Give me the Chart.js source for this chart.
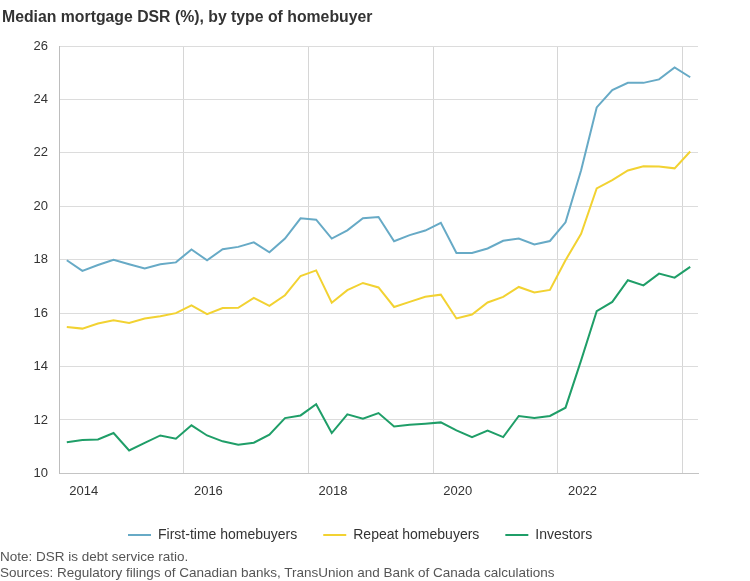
<!DOCTYPE html>
<html>
<head>
<meta charset="utf-8">
<script src="https://cdn.jsdelivr.net/npm/chart.js@4.4.0/dist/chart.umd.min.js"></script>
<style>
  html, body { margin: 0; padding: 0; background: #ffffff; }
  #wrap { position: relative; width: 750px; height: 581px; overflow: hidden; font-family: "Liberation Sans", Arial, sans-serif; }
  #c { position: absolute; left: 0; top: 0; }
  #title { position: absolute; left: 2px; top: 8px; font-size: 15.8px; line-height: 18px; font-weight: bold; color: #333333; white-space: nowrap; }
  #notes { position: absolute; left: 0; top: 549px; font-size: 13.5px; line-height: 16px; color: #555555; white-space: nowrap; }
</style>
</head>
<body>
<div id="wrap">
  <canvas id="c" width="750" height="581"></canvas>
  <div id="title">Median mortgage DSR (%), by type of homebuyer</div>
  <div id="notes">Note: DSR is debt service ratio.<br>Sources: Regulatory filings of Canadian banks, TransUnion and Bank of Canada calculations</div>
</div>
<script>
// ---- data ----
const categories = [
  '2013Q4',
  '2014Q1','2014Q2','2014Q3','2014Q4',
  '2015Q1','2015Q2','2015Q3','2015Q4',
  '2016Q1','2016Q2','2016Q3','2016Q4',
  '2017Q1','2017Q2','2017Q3','2017Q4',
  '2018Q1','2018Q2','2018Q3','2018Q4',
  '2019Q1','2019Q2','2019Q3','2019Q4',
  '2020Q1','2020Q2','2020Q3','2020Q4',
  '2021Q1','2021Q2','2021Q3','2021Q4',
  '2022Q1','2022Q2','2022Q3','2022Q4',
  '2023Q1','2023Q2','2023Q3','2023Q4'
];
const firstTime = [17.98, 17.58, 17.80, 18.00, 17.83, 17.67, 17.83, 17.90, 18.38, 17.98,
                   18.39, 18.48, 18.65, 18.28, 18.79, 19.55, 19.50, 18.79, 19.10, 19.55,
                   19.60, 18.69, 18.92, 19.09, 19.38, 18.25, 18.25, 18.42, 18.71, 18.79,
                   18.57, 18.70, 19.40, 21.35, 23.70, 24.35, 24.62, 24.62, 24.75, 25.20, 24.83];
const repeat    = [15.48, 15.42, 15.61, 15.73, 15.63, 15.80, 15.88, 16.00, 16.29, 15.96,
                   16.19, 16.20, 16.57, 16.27, 16.67, 17.39, 17.60, 16.39, 16.86, 17.13,
                   16.96, 16.23, 16.42, 16.61, 16.69, 15.80, 15.95, 16.40, 16.61, 16.98,
                   16.77, 16.87, 17.98, 18.97, 20.67, 20.98, 21.34, 21.50, 21.49, 21.42, 22.05];
const investors = [11.17, 11.25, 11.27, 11.51, 10.86, 11.14, 11.42, 11.30, 11.80, 11.42,
                   11.20, 11.07, 11.15, 11.45, 12.07, 12.17, 12.59, 11.51, 12.21, 12.05,
                   12.26, 11.76, 11.82, 11.86, 11.91, 11.61, 11.36, 11.60, 11.36, 12.15,
                   12.07, 12.15, 12.46, 14.23, 16.07, 16.42, 17.23, 17.04, 17.48, 17.33, 17.73];
const seriesNames = ['First-time homebuyers', 'Repeat homebuyers', 'Investors'];
const xGridAt = [-0.5, 7.5, 15.5, 23.5, 31.5, 39.5];
const xTickLabels = ['2014', '2016', '2018', '2020', '2022', ''];
const yTicks = [10, 12, 14, 16, 18, 20, 22, 24, 26];

// ---- chart ----
const FONT = "'Liberation Sans', Arial, sans-serif";
Chart.defaults.font.family = FONT;

const toPoints = arr => arr.map((v, i) => ({ x: i, y: v }));

const legendPlace = {
  id: 'legendPlace',
  afterLayout(chart) {
    const l = chart.legend;
    if (!l) return;
    const w = l.right - l.left;
    const h = l.bottom - l.top;
    l.left = 102; l.right = 102 + w;
    l.top = 502; l.bottom = 502 + h;
  }
};

new Chart(document.getElementById('c'), {
  type: 'line',
  data: {
    datasets: [
      { label: seriesNames[0], data: toPoints(firstTime), borderColor: '#67aac6', backgroundColor: '#67aac6', borderWidth: 2, pointRadius: 0, tension: 0 },
      { label: seriesNames[1], data: toPoints(repeat),    borderColor: '#f2d232', backgroundColor: '#f2d232', borderWidth: 2, pointRadius: 0, tension: 0 },
      { label: seriesNames[2], data: toPoints(investors), borderColor: '#1f9e68', backgroundColor: '#1f9e68', borderWidth: 2, pointRadius: 0, tension: 0 }
    ]
  },
  options: {
    responsive: false,
    animation: false,
    layout: { padding: { left: 0, right: 52, top: 46, bottom: 22 } },
    plugins: {
      title: { display: false },
      tooltip: { enabled: false },
      legend: {
        position: 'bottom',
        align: 'start',
        labels: {
          usePointStyle: true,
          pointStyle: 'line',
          pointStyleWidth: 23,
          boxWidth: 23,
          padding: 26,
          color: '#333333',
          font: { size: 14, family: FONT }
        }
      }
    },
    scales: {
      x: {
        type: 'linear',
        min: -0.5,
        max: categories.length - 0.5,
        afterBuildTicks: (scale) => { scale.ticks = xGridAt.map(v => ({ value: v })); },
        ticks: {
          autoSkip: false,
          maxRotation: 0,
          padding: 10,
          labelOffset: 24.7,
          color: '#333333',
          font: { size: 13, family: FONT },
          callback: (val, idx) => xTickLabels[idx]
        },
        grid: { color: '#d6d6d6', drawTicks: false },
        border: { color: '#c4c4c4' }
      },
      y: {
        min: yTicks[0],
        max: yTicks[yTicks.length - 1],
        afterBuildTicks: (scale) => { scale.ticks = yTicks.map(v => ({ value: v })); },
        afterFit: (scale) => { scale.width = 59; },
        ticks: {
          padding: 11,
          color: '#333333',
          font: { size: 13, family: FONT }
        },
        grid: { color: '#dcdcdc', drawTicks: false },
        border: { color: '#bdbdbd' }
      }
    }
  },
  plugins: [legendPlace]
});
</script>
</body>
</html>
